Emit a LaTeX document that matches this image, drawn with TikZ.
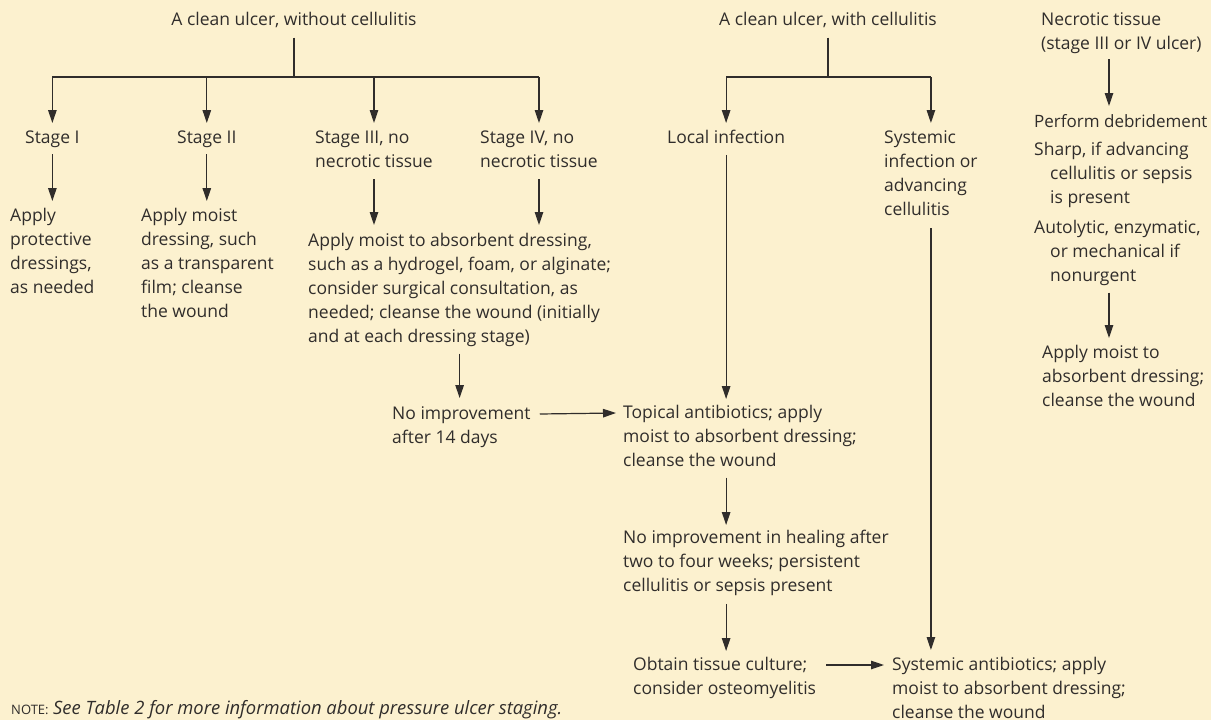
\documentclass[tikz,border=0pt]{standalone}
\usepackage{fontspec}
\setmainfont{Open Sans}
\usetikzlibrary{arrows.meta}
\definecolor{bg}{RGB}{252,241,207}
\definecolor{ink}{RGB}{48,45,43}
\newcommand\fs{\fontsize{17.5}{24}\selectfont}
\newcommand\sr{\rule[-5pt]{0pt}{18pt}}
\newcommand\hi{\hspace*{16pt}}
\tikzset{
  txt/.style={anchor=north west, inner sep=0pt, align=left, font=\fs, text=ink},
  ln/.style={draw=ink, line width=1.2pt},
  arr/.style={draw=ink, line width=1.2pt, -{Triangle[length=13pt,width=8.5pt]}},
}
\begin{document}
\begin{tikzpicture}[x=1pt,y=-1pt]
\fill[bg] (0,0) rectangle (1211,720);
\useasboundingbox (0,0) rectangle (1211,720);

% left tree
\node[txt,anchor=north] (title1) at (294,12) {\sr A clean ulcer, without cellulitis};
\node[txt] (s1) at (25,130) {\sr Stage I};
\node[txt] (s2) at (177,130) {\sr Stage II};
\node[txt] (s3) at (315,130) {\sr Stage III, no\\necrotic tissue\sr};
\node[txt] (s4) at (480,130) {\sr Stage IV, no\\necrotic tissue\sr};
\node[txt] (a1) at (10,208) {\sr Apply\\protective\\dressings,\\as needed\sr};
\node[txt] (a2) at (141,208) {\sr Apply moist\\dressing, such\\as a transparent\\film; cleanse\\the wound\sr};
\node[txt] (big) at (308,233) {\sr Apply moist to absorbent dressing,\\such as a hydrogel, foam, or alginate;\\consider surgical consultation, as\\needed; cleanse the wound (initially\\and at each dressing stage)\sr};
\node[txt] (noimp) at (392,406) {\sr No improvement\\after 14 days\sr};

% middle tree
\node[txt,anchor=north] (title2) at (828,12) {\sr A clean ulcer, with cellulitis};
\node[txt] (local) at (667,130) {\sr Local infection};
\node[txt] (sys) at (884,130) {\sr Systemic\\infection or\\advancing\\cellulitis\sr};
\node[txt] (topical) at (623,405) {\sr Topical antibiotics; apply\\moist to absorbent dressing;\\cleanse the wound\sr};
\node[txt] (heal) at (623,530) {\sr No improvement in healing after\\two to four weeks; persistent\\cellulitis or sepsis present\sr};
\node[txt] (obtain) at (633,657) {\sr Obtain tissue culture;\\consider osteomyelitis\sr};
\node[txt] (sysab) at (892,657) {\sr Systemic antibiotics; apply\\moist to absorbent dressing;\\cleanse the wound\sr};

% right column
\node[txt] (necro) at (1041,12) {\sr Necrotic tissue\\(stage III or IV ulcer)\sr};
\node[txt,font=\fontsize{17}{24}\selectfont] (debr) at (1034,114) {\sr Perform debridement\sr};
\node[txt] (sharp) at (1034,142) {\sr Sharp, if advancing\\\hi cellulitis or sepsis\\\hi is present\sr};
\node[txt] (auto) at (1034,220) {\sr Autolytic, enzymatic,\\\hi or mechanical if\\\hi nonurgent\sr};
\node[txt] (applyD) at (1042,345) {\sr Apply moist to\\absorbent dressing;\\cleanse the wound\sr};

% note
\node[txt,anchor=west] (note) at (11,710) {{\fontsize{13}{13}\selectfont NOTE:} {\fontsize{18.4}{20}\selectfont\itshape See Table 2 for more information about pressure ulcer staging.}};

% junctions
\coordinate (j1) at (294,77);
\coordinate (j2) at (828,77);
\coordinate (cn) at (1109,0);

% left connectors
\draw[ln] ([yshift=-7pt]title1.south) -- (title1.south |- j1);
\draw[ln] (s1.north |- j1) -- (s4.north |- j1);
\draw[arr] (s1.north |- j1) -- ([yshift=7pt]s1.north);
\draw[arr] (s2.north |- j1) -- ([yshift=7pt]s2.north);
\draw[arr] (s3.north |- j1) -- ([yshift=7pt]s3.north);
\draw[arr] (s4.north |- j1) -- ([yshift=7pt]s4.north);
\draw[arr] ([yshift=-6pt]s1.south) -- ([yshift=7pt]s1.south |- a1.north);
\draw[arr] ([yshift=-6pt]s2.south) -- ([yshift=7pt]s2.south |- a2.north);
\draw[arr] ([yshift=-7pt]s3.south) -- ([yshift=8pt]s3.south |- big.north);
\draw[arr] ([yshift=-7pt]s4.south) -- ([yshift=8pt]s4.south |- big.north);
\draw[arr] ([yshift=-6pt]big.south) -- ([yshift=8pt]big.south |- noimp.north);
\draw[arr] ([xshift=9pt,yshift=-8pt]noimp.north east) -- ([xshift=-7pt,yshift=-8pt]topical.north west);

% middle connectors
\draw[ln] ([yshift=-7pt]title2.south) -- (title2.south |- j2);
\draw[ln] (local.north |- j2) -- (sys.north |- j2);
\draw[arr] (local.north |- j2) -- ([yshift=7pt]local.north);
\draw[arr] (sys.north |- j2) -- ([yshift=7pt]sys.north);
\draw[arr] ([yshift=-6pt]local.south) -- ([yshift=6pt]local.south |- topical.north);
\draw[arr] ([yshift=-6pt]topical.south -| local.south) -- ([yshift=5pt]heal.north -| local.south);
\draw[arr] ([yshift=-7pt]heal.south -| local.south) -- ([yshift=6pt]obtain.north -| local.south);
\draw[arr] ([yshift=-8pt]sys.south) -- ([yshift=7pt]sys.south |- sysab.north);
\draw[arr] ([xshift=10pt,yshift=-8pt]obtain.north east) -- ([xshift=-8pt,yshift=-8pt]sysab.north west);

% right connectors
\draw[arr] ([yshift=-5pt]necro.south -| cn) -- ([yshift=8pt]debr.north -| cn);
\draw[arr] ([yshift=-6pt]auto.south -| cn) -- ([yshift=7pt]applyD.north -| cn);
\end{tikzpicture}
\end{document}
